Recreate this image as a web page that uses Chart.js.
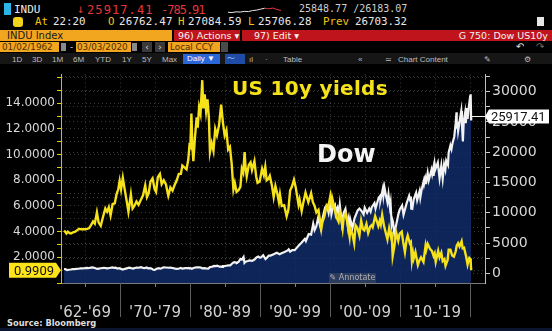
<!DOCTYPE html>
<html>
<head>
<meta charset="utf-8">
<script src="https://cdn.jsdelivr.net/npm/chart.js@4.4.1/dist/chart.umd.min.js"></script>
<style>
  body { margin: 0; background: #000; }
  #frame { position: relative; width: 552px; height: 331px; overflow: hidden; background: #000; font-family: "DejaVu Sans", sans-serif; }
  .t { position: absolute; white-space: nowrap; line-height: 1; }
  .mono { font-family: "DejaVu Sans Mono", monospace; }
  .bar { position: absolute; height: 11px; line-height: 11px; font-size: 9.5px; white-space: nowrap; }
  .box { position: absolute; top: 42px; height: 10px; line-height: 10px; font-size: 8.8px; white-space: nowrap; overflow: hidden; }
  .btn { position: absolute; top: 56px; font-family: "Liberation Sans", sans-serif; font-size: 8px; line-height: 8px; color: #bdbdbd; white-space: nowrap; }
</style>
</head>
<body>
<div id="frame">
  <!-- row 1: last price -->
  <div style="position:absolute;left:4px;top:3px;width:7px;height:12px;background:#2bb5e6"></div>
  <div class="t mono" style="left:14px;top:4px;font-size:11px;color:#e8e8e8">INDU</div>
  <div class="t mono" style="left:77px;top:3px;font-size:12px;color:#e5373c">↓</div>
  <div class="t mono" style="left:87px;top:4px;font-size:12px;color:#e5373c;letter-spacing:1.1px">25917.41</div>
  <div class="t mono" style="left:161px;top:4px;font-size:12px;color:#e5373c;letter-spacing:-1px">-785.91</div>
  <canvas id="sparkChart" width="55" height="13" style="position:absolute;left:227px;top:2px"></canvas>
  <div class="t mono" style="left:299px;top:4px;font-size:10px;color:#cfcfcf">25848.77 /26183.07</div>

  <!-- row 2: session values -->
  <div style="position:absolute;left:13px;top:17px;width:10px;height:10px;border-radius:3px;background:#f2d21c"></div>
  <div class="t mono" style="left:35px;top:17px;font-size:10.8px;color:#f0c419">At</div>
  <div class="t mono" style="left:53px;top:17px;font-size:10.8px;color:#e8e8e8">22:20</div>
  <div class="t mono" style="left:108px;top:17px;font-size:10.8px;color:#f0c419">O</div>
  <div class="t mono" style="left:119px;top:17px;font-size:10.8px;color:#e8e8e8;letter-spacing:0.2px">26762.47</div>
  <div class="t mono" style="left:178px;top:17px;font-size:10.8px;color:#f0c419">H</div>
  <div class="t mono" style="left:188px;top:17px;font-size:10.8px;color:#e8e8e8;letter-spacing:0.2px">27084.59</div>
  <div class="t mono" style="left:248px;top:17px;font-size:10.8px;color:#f0c419">L</div>
  <div class="t mono" style="left:258px;top:17px;font-size:10.8px;color:#e8e8e8;letter-spacing:0.2px">25706.28</div>
  <div class="t mono" style="left:323px;top:17px;font-size:10.8px;color:#f0c419">Prev</div>
  <div class="t mono" style="left:355px;top:17px;font-size:10.8px;color:#e8e8e8">26703.32</div>
  <div style="position:absolute;left:537px;top:17px;width:7px;height:9px;background:#e6e6e6"></div>

  <!-- row 3: title bars -->
  <div class="bar" style="left:0;top:30px;width:165px;padding-left:7px;background:#f2a51f;color:#1a1a1a;font-size:10px">INDU Index</div>
  <div class="bar" style="left:174px;top:30px;width:62px;padding-left:4px;background:#c0141c;color:#f4f4f4">96) Actions ▾</div>
  <div class="bar" style="left:242px;top:30px;width:298px;padding-left:12px;background:#c0141c;color:#f4f4f4">97) Edit ▾</div>
  <div class="bar" style="left:400px;top:30px;width:148px;text-align:right;color:#f4f4f4">G 750: Dow US10y</div>

  <!-- row 4: date range -->
  <div class="box" style="left:0;width:57px;padding-left:2px;background:#f2a51f;color:#4a2d00">01/02/1962</div>
  <div style="position:absolute;left:61px;top:43px;width:5px;height:8px;background:#8a8a8a"></div>
  <div class="box" style="left:70px;color:#cfcfcf">-</div>
  <div class="box" style="left:76px;width:54px;padding-left:1px;background:#f2a51f;color:#4a2d00">03/03/2020</div>
  <div style="position:absolute;left:132px;top:43px;width:5px;height:8px;background:#8a8a8a"></div>
  <div class="box" style="left:142px;width:10px;text-align:center;background:#3a3a3a;color:#ddd">‹</div>
  <div class="box" style="left:155px;width:10px;text-align:center;background:#3a3a3a;color:#ddd">›</div>
  <div class="box" style="left:168px;width:50px;padding-left:2px;background:#f2a51f;color:#4a2d00">Local CCY</div>
  <div style="position:absolute;left:221px;top:42px;width:7px;height:10px;background:#4a4a4a"></div>
  <div class="box" style="left:516px;color:#e0e0e0;font-size:10px">↶</div>
  <div class="box" style="left:536px;color:#6a6a6a;font-size:10px">↷</div>

  <!-- row 5: toolbar -->
  <div style="position:absolute;left:0;top:53px;width:552px;height:11px;background:#161616"></div>
  <div class="btn" style="left:12px">1D</div>
  <div class="btn" style="left:32px">3D</div>
  <div class="btn" style="left:52px">1M</div>
  <div class="btn" style="left:73px">6M</div>
  <div class="btn" style="left:95px">YTD</div>
  <div class="btn" style="left:122px">1Y</div>
  <div class="btn" style="left:142px">5Y</div>
  <div class="btn" style="left:162px">Max</div>
  <div class="btn" style="left:183px;top:54px;width:33px;height:10px;line-height:10px;padding-left:4px;background:#2a66d6;color:#fff">Daily ▼</div>
  <div class="btn" style="left:225px;top:54px;width:18px;height:10px;line-height:10px;padding-left:2px;background:#1f4da6;color:#9fc0ff">〜</div>
  <div class="btn" style="left:249px">ıl</div>
  <div class="btn" style="left:265px">·</div>
  <div class="btn" style="left:283px">Table</div>
  <div class="btn" style="left:358px">«</div>
  <div class="btn" style="left:385px">≃</div>
  <div class="btn" style="left:398px">Chart Content</div>
  <div class="btn" style="left:484px">✎</div>
  <div class="btn" style="left:524px">⚙</div>

  <canvas id="dowYieldChart" width="552" height="254" style="position:absolute;left:0;top:64px"></canvas>

  <div class="t" style="left:232px;top:78px;font-size:20px;font-weight:bold;color:#f6e21b;letter-spacing:0.3px">US 10y yields</div>
  <div class="t" style="left:317px;top:142px;font-size:24px;font-weight:bold;color:#f4f4f4">Dow</div>
  <div class="t" style="left:329px;top:273px;width:47px;height:10px;line-height:10px;font-size:8px;color:#b0b0b0;background:rgba(70,80,100,0.55);text-align:center">✎ Annotate</div>

  <div class="t" style="left:7px;top:319px;font-size:8.3px;font-weight:bold;color:#dedede">Source: Bloomberg</div>
  <div style="position:absolute;left:0;top:328px;width:552px;height:3px;background:#0b1530"></div>
</div>

<script>
const yieldDates = [
  1962.00, 1962.15, 1962.35, 1962.55, 1962.80, 1963.00, 1963.30, 1963.60, 1963.90, 1964.15,
  1964.45, 1964.75, 1965.00, 1965.30, 1965.60, 1965.90, 1966.15, 1966.40, 1966.70, 1966.95,
  1967.25, 1967.55, 1967.90, 1968.15, 1968.40, 1968.65, 1968.95, 1969.25, 1969.50, 1969.75,
  1969.95, 1970.15, 1970.40, 1970.65, 1970.95, 1971.20, 1971.55, 1971.80, 1972.05, 1972.35,
  1972.65, 1972.95, 1973.30, 1973.60, 1973.85, 1974.10, 1974.35, 1974.65, 1974.95, 1975.15,
  1975.40, 1975.70, 1975.95, 1976.25, 1976.55, 1976.90, 1977.20, 1977.50, 1977.85, 1978.10,
  1978.40, 1978.70, 1978.90, 1979.20, 1979.50, 1979.75, 1979.92, 1980.05, 1980.20, 1980.35,
  1980.48, 1980.70, 1980.95, 1981.10, 1981.30, 1981.50, 1981.75, 1981.90, 1982.10, 1982.30,
  1982.50, 1982.70, 1982.85, 1983.10, 1983.35, 1983.60, 1983.85, 1984.15, 1984.45, 1984.70,
  1984.95, 1985.20, 1985.45, 1985.70, 1985.95, 1986.20, 1986.40, 1986.65, 1986.95, 1987.20,
  1987.40, 1987.60, 1987.80, 1987.95, 1988.10, 1988.40, 1988.65, 1988.85, 1989.20, 1989.45,
  1989.65, 1989.95, 1990.30, 1990.55, 1990.75, 1990.95, 1991.20, 1991.40, 1991.70, 1991.95,
  1992.20, 1992.45, 1992.70, 1992.85, 1993.10, 1993.45, 1993.80, 1994.05, 1994.30, 1994.55,
  1994.85, 1995.10, 1995.50, 1995.65, 1995.95, 1996.20, 1996.50, 1996.90, 1997.30, 1997.55,
  1997.80, 1998.05, 1998.35, 1998.75, 1998.90, 1999.20, 1999.50, 1999.70, 1999.95, 2000.05,
  2000.30, 2000.40, 2000.65, 2000.95, 2001.20, 2001.40, 2001.60, 2001.80, 2001.95, 2002.25,
  2002.55, 2002.80, 2002.90, 2003.20, 2003.45, 2003.65, 2003.90, 2004.20, 2004.45, 2004.70,
  2004.90, 2005.20, 2005.45, 2005.75, 2005.95, 2006.10, 2006.45, 2006.70, 2006.90, 2007.10,
  2007.25, 2007.45, 2007.70, 2007.90, 2008.20, 2008.45, 2008.70, 2008.80, 2008.95, 2009.20,
  2009.45, 2009.75, 2009.95, 2010.25, 2010.45, 2010.70, 2010.95, 2011.10, 2011.40, 2011.55,
  2011.70, 2011.85, 2011.95, 2012.20, 2012.55, 2012.80, 2013.00, 2013.35, 2013.65, 2013.75,
  2013.95, 2014.30, 2014.55, 2014.80, 2014.95, 2015.10, 2015.45, 2015.65, 2015.90, 2016.10,
  2016.35, 2016.50, 2016.80, 2016.95, 2017.20, 2017.45, 2017.70, 2017.95, 2018.10, 2018.30,
  2018.50, 2018.80, 2018.95, 2019.15, 2019.45, 2019.65, 2019.80, 2019.90, 2020.00, 2020.08,
  2020.12, 2020.17
]
const yieldValues = [
  4.08, 4.00, 3.85, 4.00, 3.88, 3.85, 3.95, 4.00, 4.12, 4.22,
  4.18, 4.20, 4.18, 4.22, 4.28, 4.55, 4.80, 4.62, 5.50, 4.70,
  4.45, 5.10, 5.80, 5.55, 5.90, 5.25, 6.15, 6.20, 6.90, 7.30,
  7.95, 7.30, 8.20, 7.35, 6.40, 5.55, 6.90, 5.80, 6.00, 6.35,
  6.10, 6.45, 6.85, 7.60, 6.70, 7.00, 7.90, 8.15, 7.30, 7.10,
  8.25, 8.50, 7.70, 8.00, 7.70, 6.80, 7.45, 7.20, 7.70, 8.00,
  8.50, 8.50, 9.15, 9.00, 8.85, 9.60, 10.70, 10.60, 13.20, 10.50,
  9.50, 11.30, 12.90, 12.10, 13.70, 13.20, 15.80, 13.60, 14.70, 13.40,
  14.30, 12.80, 10.20, 10.90, 10.30, 12.00, 11.50, 12.30, 13.90, 12.50,
  11.50, 11.90, 10.40, 10.60, 9.30, 7.30, 7.80, 7.10, 7.25, 7.50,
  8.90, 8.60, 10.20, 8.90, 8.30, 9.20, 9.40, 8.80, 9.50, 8.30,
  7.80, 7.90, 8.90, 8.40, 9.05, 8.00, 8.10, 8.35, 7.60, 6.70,
  7.55, 7.00, 6.30, 6.90, 6.00, 6.05, 5.20, 5.70, 7.20, 7.50,
  8.05, 7.45, 6.10, 6.50, 5.60, 6.30, 7.05, 6.30, 7.00, 6.30,
  6.00, 5.50, 5.70, 4.20, 4.70, 5.20, 6.00, 5.80, 6.50, 6.80,
  5.90, 6.40, 5.80, 5.10, 4.80, 5.50, 5.00, 4.25, 5.10, 5.40,
  4.50, 3.60, 4.20, 3.80, 3.10, 4.50, 4.30, 3.70, 4.85, 4.20,
  4.10, 4.60, 3.90, 4.40, 4.50, 4.35, 5.20, 4.80, 4.45, 4.85,
  4.55, 5.30, 4.50, 4.05, 3.40, 4.25, 3.60, 4.00, 2.10, 2.90,
  3.95, 3.30, 3.85, 4.00, 3.20, 2.40, 3.40, 3.70, 3.10, 3.20,
  1.75, 2.30, 1.90, 2.40, 1.40, 1.80, 2.00, 1.65, 2.90, 2.60,
  3.05, 2.65, 2.50, 2.10, 2.30, 1.65, 2.50, 2.00, 2.35, 1.70,
  1.85, 1.35, 1.80, 2.60, 2.60, 2.15, 2.05, 2.45, 2.90, 3.10,
  2.85, 3.25, 2.70, 2.75, 2.05, 1.45, 1.80, 1.95, 1.90, 1.55,
  1.60, 0.9909
]

const dowDates = [
  1962.00, 1962.20, 1962.45, 1962.70, 1962.95, 1963.25, 1963.50, 1963.80, 1964.05, 1964.35,
  1964.60, 1964.95, 1965.35, 1965.45, 1965.85, 1966.10, 1966.40, 1966.75, 1966.95, 1967.25,
  1967.70, 1967.95, 1968.20, 1968.50, 1968.90, 1969.15, 1969.40, 1969.60, 1969.85, 1970.05,
  1970.40, 1970.70, 1970.95, 1971.30, 1971.60, 1971.90, 1972.10, 1972.40, 1972.70, 1972.95,
  1973.30, 1973.55, 1973.80, 1974.00, 1974.30, 1974.55, 1974.75, 1974.95, 1975.25, 1975.50,
  1975.75, 1975.95, 1976.20, 1976.55, 1976.90, 1977.20, 1977.50, 1977.90, 1978.20, 1978.55,
  1978.70, 1978.90, 1979.30, 1979.60, 1979.80, 1979.90, 1980.05, 1980.25, 1980.60, 1980.90,
  1981.30, 1981.55, 1981.75, 1982.00, 1982.30, 1982.60, 1982.85, 1982.95, 1983.20, 1983.45,
  1983.70, 1983.90, 1984.20, 1984.40, 1984.60, 1984.70, 1984.90, 1985.20, 1985.45, 1985.75,
  1985.95, 1986.20, 1986.35, 1986.60, 1986.70, 1986.95, 1987.20, 1987.40, 1987.65, 1987.78,
  1987.95, 1988.25, 1988.50, 1988.90, 1989.25, 1989.50, 1989.75, 1989.90, 1990.10, 1990.45,
  1990.78, 1991.00, 1991.25, 1991.50, 1991.95, 1992.40, 1992.80, 1993.00, 1993.50, 1993.95,
  1994.10, 1994.30, 1994.60, 1994.95, 1995.30, 1995.60, 1995.95, 1996.40, 1996.55, 1996.95,
  1997.30, 1997.60, 1997.80, 1998.05, 1998.30, 1998.65, 1998.95, 1999.30, 1999.55, 1999.80,
  2000.05, 2000.20, 2000.40, 2000.70, 2000.80, 2000.95, 2001.05, 2001.25, 2001.40, 2001.70,
  2001.95, 2002.20, 2002.55, 2002.65, 2002.80, 2002.90, 2003.20, 2003.50, 2003.95, 2004.20,
  2004.50, 2004.80, 2004.95, 2005.30, 2005.60, 2005.80, 2005.95, 2006.35, 2006.50, 2006.95,
  2007.15, 2007.20, 2007.55, 2007.63, 2007.78, 2008.00, 2008.20, 2008.35, 2008.55, 2008.65,
  2008.80, 2008.90, 2009.00, 2009.18, 2009.50, 2009.75, 2009.95, 2010.30, 2010.50, 2010.95,
  2011.30, 2011.45, 2011.55, 2011.60, 2011.75, 2011.95, 2012.30, 2012.45, 2012.80, 2012.90,
  2013.10, 2013.40, 2013.45, 2013.60, 2013.70, 2013.95, 2014.10, 2014.50, 2014.60, 2014.75,
  2014.80, 2014.95, 2015.05, 2015.40, 2015.65, 2015.90, 2016.10, 2016.30, 2016.48, 2016.60,
  2016.85, 2016.95, 2017.20, 2017.35, 2017.50, 2017.75, 2017.95, 2018.07, 2018.10, 2018.20,
  2018.30, 2018.55, 2018.75, 2018.85, 2018.98, 2019.10, 2019.30, 2019.40, 2019.55, 2019.65,
  2019.85, 2019.95, 2020.05, 2020.08, 2020.11, 2020.16, 2020.17
]
const dowValues = [
  725, 700, 540, 610, 650, 710, 700, 750, 770, 820,
  840, 870, 930, 860, 950, 995, 900, 745, 790, 860,
  930, 880, 830, 900, 985, 910, 950, 800, 860, 790,
  630, 760, 840, 950, 870, 800, 900, 960, 940, 1030,
  920, 880, 980, 850, 860, 760, 600, 580, 770, 870,
  800, 850, 1000, 980, 940, 950, 900, 800, 740, 850,
  900, 790, 870, 860, 900, 810, 880, 760, 940, 990,
  1020, 960, 830, 880, 820, 780, 1040, 1060, 1130, 1230,
  1200, 1280, 1120, 1130, 1090, 1220, 1210, 1270, 1320, 1330,
  1550, 1800, 1850, 1780, 1760, 1930, 2380, 2280, 2720, 1740,
  1950, 2050, 2150, 2090, 2300, 2650, 2790, 2650, 2600, 2999,
  2370, 2600, 2950, 2950, 3170, 3400, 3150, 3300, 3550, 3790,
  3980, 3600, 3850, 3830, 4300, 4700, 5100, 5700, 5350, 6500,
  6400, 8200, 7160, 7800, 9200, 7540, 9180, 10900, 11200, 10000,
  11720, 9800, 10800, 11300, 9975, 10700, 10900, 9400, 11300, 8235,
  10000, 10630, 7700, 8700, 7290, 8900, 7520, 9100, 10400, 10700,
  10300, 9750, 10850, 10000, 10700, 10200, 10900, 11600, 10700, 12500,
  12800, 12050, 14000, 12850, 14160, 12800, 11740, 13050, 11000, 11700,
  8175, 8900, 8500, 6550, 8300, 9700, 10500, 11200, 9700, 11600,
  12800, 12000, 12700, 10700, 10650, 12200, 13300, 12100, 13600, 12540,
  13900, 15300, 14800, 15600, 14760, 16580, 15370, 17100, 16400, 17300,
  16100, 18000, 17200, 18300, 15700, 17800, 15660, 18000, 17140, 18600,
  17900, 19960, 21100, 20500, 21500, 22600, 24800, 26600, 23900, 25000,
  23500, 25400, 26800, 24400, 21790, 25000, 26500, 24800, 27300, 25500,
  27700, 28600, 28200, 28300, 29550, 25400, 25917.41
]

// intraday sparkline in the header
const sparkValues = [26310, 26260, 26400, 26350, 26480, 26430, 26620, 26700, 26880, 27050, 26950, 27080, 26820, 26650]

const yearTicks = [1965, 1970, 1975, 1980, 1985, 1990, 1995, 2000, 2005, 2010, 2015, 2020]
const decadeStarts = [1970, 1980, 1990, 2000, 2010, 2020]
const xLabelYears = [1965, 1975, 1985, 1995, 2005, 2015]
const xLabels = ["'62-'69", "'70-'79", "'80-'89", "'90-'99", "'00-'09", "'10-'19"]
const yieldTicks = [0, 1, 2, 3, 4, 5, 6, 7, 8, 9, 10, 11, 12, 13, 14, 15, 16]
const dowTicks = [0, 2500, 5000, 7500, 10000, 12500, 15000, 17500, 20000, 22500, 25000, 27500, 30000, 32500]

const gridDotted = 'rgba(150, 150, 150, 0.38)'

// separators between the decade labels below the plot
const decadeLines = {
    id: 'decadeLines',
    afterDraw(chart) {
        const { ctx, chartArea, scales } = chart
        ctx.save()
        ctx.strokeStyle = '#5c5c5c'
        ctx.lineWidth = 1
        decadeStarts.forEach(yr => {
            const x = Math.round(scales.x.getPixelForValue(yr)) + 0.5
            ctx.beginPath()
            ctx.moveTo(x, chartArea.bottom)
            ctx.lineTo(x, chart.height - 1)
            ctx.stroke()
        })
        ctx.restore()
    }
}

// last value tags on both axes
const lastValueTags = {
    id: 'lastValueTags',
    afterDraw(chart) {
        const { ctx, chartArea, scales } = chart
        const lastYield = yieldValues[yieldValues.length - 1]
        const lastDow = dowValues[dowValues.length - 1]
        const yy = scales.y.getPixelForValue(lastYield)
        const yd = Math.round(scales.y1.getPixelForValue(lastDow)) + 0.5
        const xEnd = scales.x.getPixelForValue(dowDates[dowDates.length - 1])

        ctx.save()
        ctx.strokeStyle = '#f0f0f0'
        ctx.lineWidth = 1
        ctx.beginPath()
        ctx.moveTo(xEnd, yd)
        ctx.lineTo(chartArea.right, yd)
        ctx.stroke()

        const left = chartArea.left
        ctx.fillStyle = '#ffe41c'
        ctx.beginPath()
        ctx.moveTo(9, yy - 7.5)
        ctx.lineTo(left - 5, yy - 7.5)
        ctx.lineTo(left, yy)
        ctx.lineTo(left - 5, yy + 7.5)
        ctx.lineTo(9, yy + 7.5)
        ctx.closePath()
        ctx.fill()
        ctx.fillStyle = '#111'
        ctx.font = '13px Roboto'
        ctx.textAlign = 'right'
        ctx.textBaseline = 'middle'
        ctx.fillText(lastYield.toFixed(4), left - 7, yy + 1)

        const right = chartArea.right
        ctx.fillStyle = '#ffffff'
        ctx.beginPath()
        ctx.moveTo(right, yd)
        ctx.lineTo(right + 4, yd - 7)
        ctx.lineTo(549, yd - 7)
        ctx.lineTo(549, yd + 7)
        ctx.lineTo(right + 4, yd + 7)
        ctx.closePath()
        ctx.fill()
        ctx.fillStyle = '#111'
        ctx.textAlign = 'left'
        ctx.fillText(lastDow.toFixed(2), right + 6, yd + 1)
        ctx.restore()
    }
}

const chartCtx = document.getElementById('dowYieldChart')

const dowYieldChart = new Chart(chartCtx, {
    type: 'line',
    data: {
        datasets: [{
            label: 'US 10y yields',
            data: yieldDates.map((x, i) => ({ x: x, y: yieldValues[i] })),
            yAxisID: 'y',
            borderColor: '#f6e21b',
            borderWidth: 2.4,
            pointRadius: 0,
            fill: false,
            order: 0
        }, {
            label: 'Dow',
            data: dowDates.map((x, i) => ({ x: x, y: dowValues[i] })),
            yAxisID: 'y1',
            borderColor: '#f2f2f2',
            backgroundColor: 'rgba(16, 44, 104, 0.85)',
            borderWidth: 2.2,
            pointRadius: 0,
            fill: 'start',
            order: 1
        }]
    },
    options: {
        responsive: false,
        animation: false,
        layout: { autoPadding: false, padding: { top: 1, left: 0, right: 0, bottom: 0 } },
        plugins: {
            legend: { display: false },
            tooltip: { enabled: false }
        },
        scales: {
            x: {
                type: 'linear',
                min: 1961.57,
                max: 2022.14,
                afterBuildTicks: axis => { axis.ticks = yearTicks.map(v => ({ value: v })) },
                afterFit: axis => { axis.height = 35 },
                grid: { color: gridDotted, tickColor: '#808080', tickLength: 4 },
                border: { color: '#7a7a7a', dash: [1, 3] },
                ticks: {
                    color: '#d2d2d2',
                    font: { family: 'DejaVu Sans', size: 15 },
                    padding: 17,
                    autoSkip: false,
                    maxRotation: 0,
                    callback: v => {
                        const i = xLabelYears.indexOf(v)
                        return i < 0 ? '' : xLabels[i]
                    }
                }
            },
            y: {
                position: 'left',
                min: 0,
                max: 16.25,
                afterBuildTicks: axis => { axis.ticks = yieldTicks.map(v => ({ value: v })) },
                afterFit: axis => { axis.width = 61 },
                grid: { color: gridDotted, tickColor: '#e0cc1a', tickLength: 4 },
                border: { color: '#cdbb18', dash: [1, 3] },
                ticks: {
                    color: '#d8d8d8',
                    font: { family: 'DejaVu Sans', size: 12 },
                    padding: 2,
                    autoSkip: false,
                    callback: v => (v % 2 === 0 && v > 0 && v < 16) ? v.toFixed(4) : ''
                }
            },
            y1: {
                position: 'right',
                min: -1580,
                max: 32840,
                afterBuildTicks: axis => { axis.ticks = dowTicks.map(v => ({ value: v })) },
                afterFit: axis => { axis.width = 67 },
                grid: { color: gridDotted, tickColor: '#cfcfcf', tickLength: 5 },
                border: { color: '#bdbdbd', dash: [1, 3] },
                ticks: {
                    color: '#d8d8d8',
                    font: { family: 'DejaVu Sans', size: 14 },
                    padding: 2,
                    autoSkip: false,
                    callback: v => (v % 5000 === 0 && v <= 30000) ? String(v) : ''
                }
            }
        }
    },
    plugins: [decadeLines, lastValueTags]
})

const sparkCtx = document.getElementById('sparkChart')
const sparkChart = new Chart(sparkCtx, {
    type: 'line',
    data: {
        labels: sparkValues.map((v, i) => i),
        datasets: [{
            data: sparkValues,
            borderWidth: 1,
            pointRadius: 0,
            segment: { borderColor: c => c.p0DataIndex >= 9 ? '#e5373c' : '#e8e8e8' }
        }]
    },
    options: {
        responsive: false,
        animation: false,
        layout: { padding: 1 },
        plugins: { legend: { display: false }, tooltip: { enabled: false } },
        scales: { x: { display: false }, y: { display: false } }
    }
})
</script>
</body>
</html>
